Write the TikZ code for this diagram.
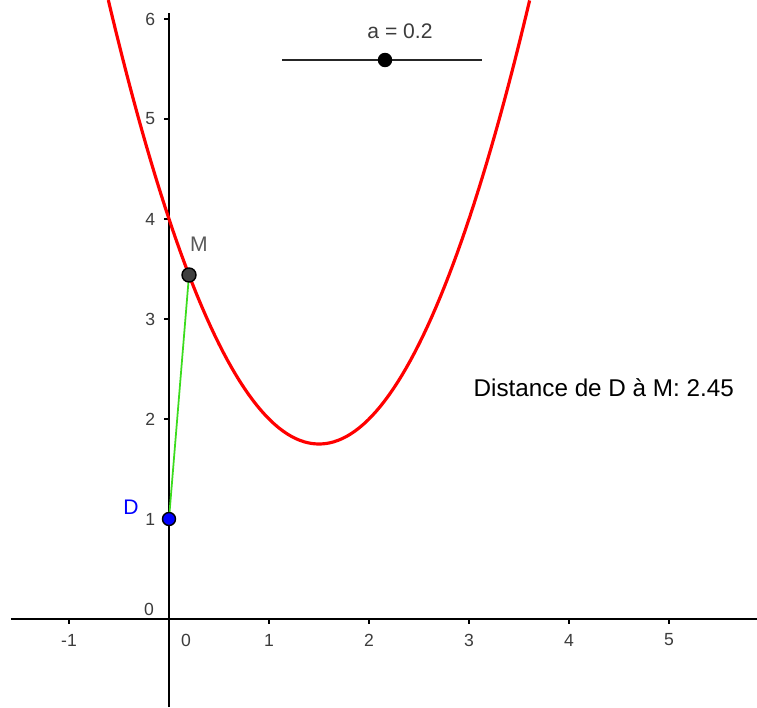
\documentclass[tikz,border=0pt]{standalone}
\usepackage{fontspec}
\setmainfont{Liberation Sans}

\definecolor{curvered}{RGB}{255,0,0}
\definecolor{segmentgreen}{RGB}{60,220,30}
\definecolor{pointblue}{RGB}{0,0,255}
\definecolor{labelgray}{RGB}{60,60,60}

\begin{document}
\begin{tikzpicture}[x=1cm, y=1cm,
  ticklabel/.style={font=\fontsize{5}{6}\selectfont, text=labelgray, inner sep=0pt},
  pointlabel/.style={font=\fontsize{6}{7}\selectfont, inner sep=0pt},
  dot/.style={draw=black, line width=0.4pt}]

% Frame
\useasboundingbox (-1.69,-0.88) rectangle (5.88,6.19);

% Axes
\draw[line width=0.55pt] (-1.58,0) -- (5.88,0);
\draw[line width=0.55pt] (0,-0.88) -- (0,6.06);

% Ticks on x
\foreach \x in {-1,1,2,3,4,5}
  \draw[line width=0.55pt] (\x,0) -- (\x,-0.05);
\foreach \x in {1,...,5}
  \node[ticklabel] (xlab\x) at (\x,-0.21) {\x};
\node[ticklabel] (xminus) at (-1,-0.21) {-1};
\node[ticklabel] (xzero) at (0.17,-0.21) {0};

% Ticks on y
\foreach \y in {1,...,6}
  \draw[line width=0.55pt] (0,\y) -- (-0.05,\y) node[ticklabel, left=0.08cm] {\y};
\node[ticklabel] (yzero) at (-0.20,0.10) {0};

% Parabola y = x^2 - 3x + 4
\draw[curvered, line width=0.9pt, domain=-0.607:3.607, samples=100]
  plot (\x, {\x*\x - 3*\x + 4});

% Points D and M
\coordinate (D) at (0,1);
\coordinate (M) at (0.2,3.44);
\draw[segmentgreen, line width=0.5pt] (D) -- (M);
\draw[dot, fill=pointblue] (D) circle (0.065);
\draw[dot, fill=black!75] (M) circle (0.07);
\node[pointlabel, text=pointblue] (Dlabel) at (-0.38,1.12) {D};
\node[pointlabel, text=black!65] (Mlabel) at (0.30,3.75) {M};

% Slider a
\coordinate (sliderL) at (1.13,5.59);
\coordinate (sliderR) at (3.13,5.59);
\coordinate (sliderA) at (2.16,5.59);
\draw[line width=0.6pt, black!85] (sliderL) -- (sliderR);
\draw[dot, fill=black] (sliderA) circle (0.065);
\node[pointlabel, text=labelgray] (alabel) at (2.31,5.88) {a = 0.2};

% Distance text
\node[font=\fontsize{6.9}{8}\selectfont, anchor=base west, inner sep=0pt] (dist)
  at (3.04,2.23) {Distance de D à M: 2.45};

\end{tikzpicture}
\end{document}
